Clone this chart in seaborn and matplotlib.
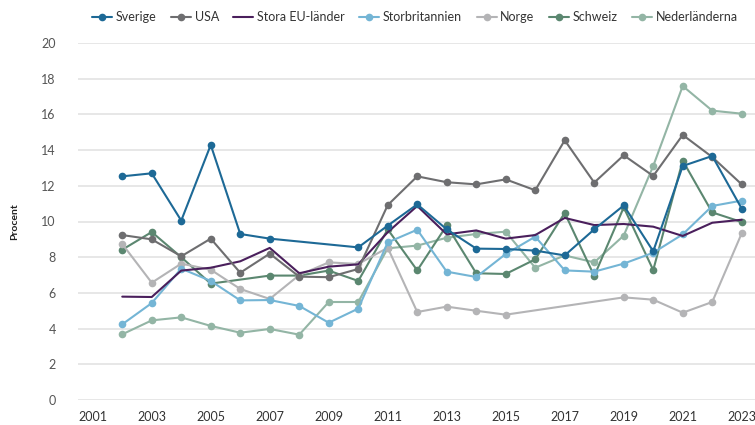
import numpy as np
import pandas as pd
import matplotlib
matplotlib.use("Agg")
import matplotlib.pyplot as plt
import seaborn as sns

years = list(range(2002, 2024))

sverige = [12.53, 12.70, 10.05, 14.29, 9.30, 9.04, np.nan, np.nan, 8.55, 9.77, 10.96,
           9.56, 8.48, 8.46, 8.37, 8.10, 9.56, 10.90, 8.33, 13.11, 13.67, 10.72]
usa = [9.24, 9.00, 8.05, 9.04, 7.13, 8.20, 6.91, 6.88, 7.34, 10.92, 12.53,
       12.20, 12.08, 12.36, 11.75, 14.55, 12.18, 13.71, 12.55, 14.85, 13.61, 12.08]
stora_eu = [5.79, 5.77, 7.25, 7.41, 7.77, 8.52, 7.10, 7.47, 7.60, 9.40, 10.87,
            9.28, 9.50, 9.04, 9.24, 10.20, 9.80, 9.86, 9.71, 9.19, 9.93, 10.10]
storbritannien = [4.24, 5.43, 7.36, 6.67, 5.58, 5.60, 5.27, 4.33, 5.12, 8.83, 9.54,
                  7.19, 6.89, 8.18, 9.15, 7.26, 7.19, 7.64, 8.25, 9.28, 10.87, 11.17]
norge = [8.74, 6.57, 7.64, 7.30, 6.22, 5.66, 7.00, 7.71, 7.62, 8.53, 4.93,
         5.23, 5.00, 4.78, np.nan, np.nan, np.nan, 5.75, 5.62, 4.89, 5.49, 9.34]
schweiz = [8.42, 9.41, 8.00, 6.52, np.nan, 6.97, 6.97, 7.25, 6.67, 9.56, 7.26,
           9.78, 7.10, 7.06, 7.88, 10.48, 6.95, 10.79, 7.28, 13.41, 10.51, 9.97]
nederlanderna = [3.68, 4.46, 4.63, 4.15, 3.77, 3.98, 3.66, 5.49, 5.49, 8.50, 8.65,
                 9.09, 9.30, 9.43, 7.41, 8.10, 7.71, 9.21, 13.11, 17.59, 16.21, 16.04]

series = {
    "Sverige": sverige,
    "USA": usa,
    "Stora EU-länder": stora_eu,
    "Storbritannien": storbritannien,
    "Norge": norge,
    "Schweiz": schweiz,
    "Nederländerna": nederlanderna,
}
colors = {
    "Sverige": "#1d6996",
    "USA": "#6e6e70",
    "Stora EU-länder": "#4a1f5c",
    "Storbritannien": "#74b5d5",
    "Norge": "#b4b4b6",
    "Schweiz": "#5b8770",
    "Nederländerna": "#93b5a5",
}

sns.set_style("white")
plt.rcParams["font.family"] = ["Lato", "DejaVu Sans"]

fig = plt.figure(figsize=(7.55, 4.25), dpi=100)
ax = fig.add_axes([78 / 755, 25 / 425, 677 / 755, 357 / 425])

handles = {}
# draw in reverse so Sverige ends on top
for name in reversed(list(series)):
    df = pd.DataFrame({"year": years, "value": series[name]}).dropna()
    marker = None if name == "Stora EU-länder" else "o"
    sns.lineplot(data=df, x="year", y="value", ax=ax, color=colors[name],
                 marker=marker, markersize=5.5, markeredgewidth=0,
                 linewidth=1.5, label=name)
    handles[name] = ax.get_lines()[-1]

ax.set_xlim(2000.5, 2023.45)
ax.set_ylim(0, 20)
ax.set_xticks(range(2001, 2024, 2))
ax.set_yticks(range(0, 21, 2))
ax.grid(axis="y", color="#e3e3e3", linewidth=1.2)
ax.grid(axis="x", visible=False)
for s in ax.spines.values():
    s.set_visible(False)
ax.tick_params(axis="y", length=0, pad=16, labelsize=9, labelcolor="#555555")
ax.tick_params(axis="x", length=0, pad=8, labelsize=9, labelcolor="#333333")
ax.set_xlabel("")
ax.set_ylabel("")
fig.text(15 / 755, 1 - 222 / 425, "Procent", rotation=90, ha="center", va="center",
         fontsize=7.5, fontweight="bold", color="#222222")

ax.get_legend().remove()
names = list(series)
fig.legend([handles[n] for n in names], names, loc="center",
           bbox_to_anchor=(415 / 755, 1 - 17 / 425), ncol=7, frameon=False,
           fontsize=9, handlelength=1.6, handletextpad=0.3, columnspacing=1.15,
           labelcolor="#333333")

fig.savefig("out.png", dpi=100)
